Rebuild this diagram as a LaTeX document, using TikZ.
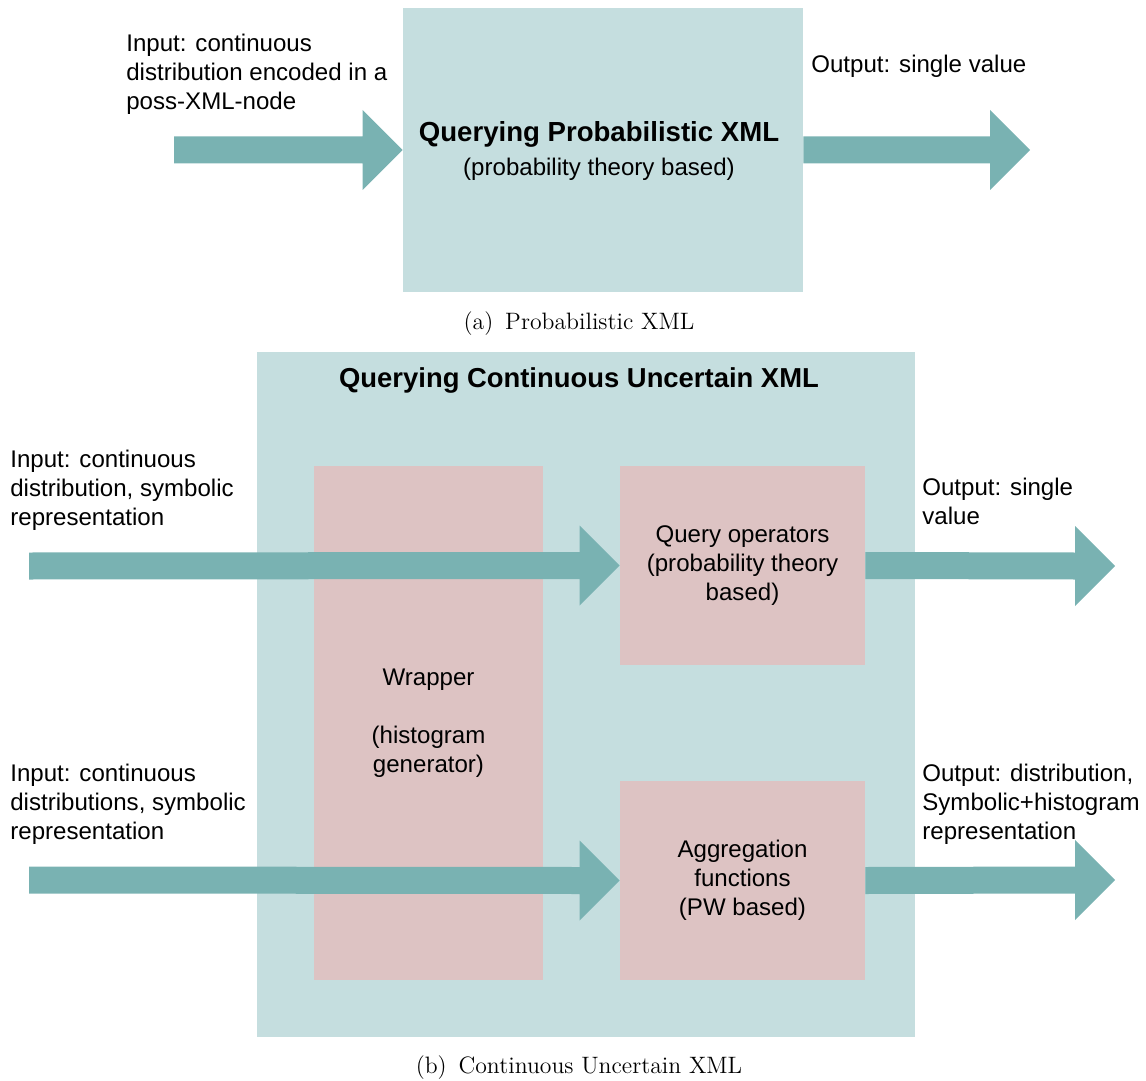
\documentclass[tikz,border=0pt]{standalone}
\usepackage{fontspec}
\newfontfamily\sfont{Liberation Sans}
\usetikzlibrary{calc}
\definecolor{boxteal}{HTML}{C5DEDF}
\definecolor{arrowteal}{HTML}{79B2B2}
\definecolor{boxpink}{HTML}{DDC3C3}
\newcommand\fatarrow[2]{%
  \fill[arrowteal] ($(#1)+(0,-13.5)$) -- ($(#2)+(-40,-13.5)$) -- ($(#2)+(-40,-40)$) -- (#2)
    -- ($(#2)+(-40,40)$) -- ($(#2)+(-40,13.5)$) -- ($(#1)+(0,13.5)$) -- cycle;}
\begin{document}
\begin{tikzpicture}[x=0.02cm,y=-0.02cm,
  lbl/.style={font=\sfont\fontsize{13.7}{16.4}\selectfont, inner sep=0pt, align=left, anchor=north west},
  outerbox/.style={fill=boxteal, draw=none, inner sep=0pt},
  innerbox/.style={fill=boxpink, draw=none, inner sep=0pt, align=center, font=\sfont\fontsize{13.7}{16.4}\selectfont},
  boxtext/.style={inner sep=0pt, align=center, font=\sfont\fontsize{13.7}{16.4}\selectfont},
  titletext/.style={font=\sfont\fontsize{15.6}{18}\selectfont\bfseries, inner sep=0pt, anchor=base},
  captext/.style={font=\fontsize{13.5}{15}\selectfont, inner sep=0pt, anchor=base},
]
\useasboundingbox (0,0) rectangle (1146,1081);

% (a)
\node[outerbox, minimum width=8cm, minimum height=5.68cm] (pxml) at (603,150) {};
\node[boxtext] (pxmltext) at (599,151)
  {{\fontsize{15.7}{18}\selectfont\bfseries Querying Probabilistic XML}\\[3pt](probability theory based)};
\node[lbl] (ina) at (126,34) {Input: continuous\\distribution encoded in a\\poss-XML-node};
\node[lbl] (outa) at (811,55) {Output: single value};
\coordinate (sa) at (174,150);
\coordinate (ea) at (1030,150);
\fatarrow{sa}{pxml.west}
\fatarrow{pxml.east}{ea}
\node[captext] (capa) at (579,329) {(a)\enspace Probabilistic XML};

% (b)
\node[outerbox, minimum width=13.16cm, minimum height=13.7cm] (cux) at (586,694.5) {};
\node[titletext] (cuxtitle) at (579,387) {Querying Continuous Uncertain XML};
\node[innerbox, minimum width=4.58cm, minimum height=10.28cm] (wrap) at (428.5,723)
  {Wrapper\\[16.4pt](histogram\\generator)};
\node[innerbox, minimum width=4.9cm, minimum height=3.98cm] (query) at (742.5,565.5)
  {Query operators\\(probability theory\\based)};
\node[innerbox, minimum width=4.9cm, minimum height=3.98cm] (agg) at (742.5,880.5)
  {Aggregation\\functions\\(PW based)};

\node[lbl] (inb1) at (10,450) {Input: continuous\\distribution, symbolic\\representation};
\node[lbl] (outb1) at (922,478) {Output: single\\value};
\node[lbl] (inb2) at (10,764) {Input: continuous\\distributions, symbolic\\representation};
\node[lbl] (outb2) at (922,764) {Output: distribution,\\Symbolic+histogram\\representation};

\coordinate (sb1) at (29,566);
\coordinate (eb1) at (1115,566);
\coordinate (sb2) at (29,880);
\coordinate (eb2) at (1115,880);
\fatarrow{sb1}{query.west}
\fatarrow{query.east}{eb1}
\fatarrow{sb2}{agg.west}
\fatarrow{agg.east}{eb2}

\node[captext] (capb) at (579,1073) {(b)\enspace Continuous Uncertain XML};
\end{tikzpicture}
\end{document}
